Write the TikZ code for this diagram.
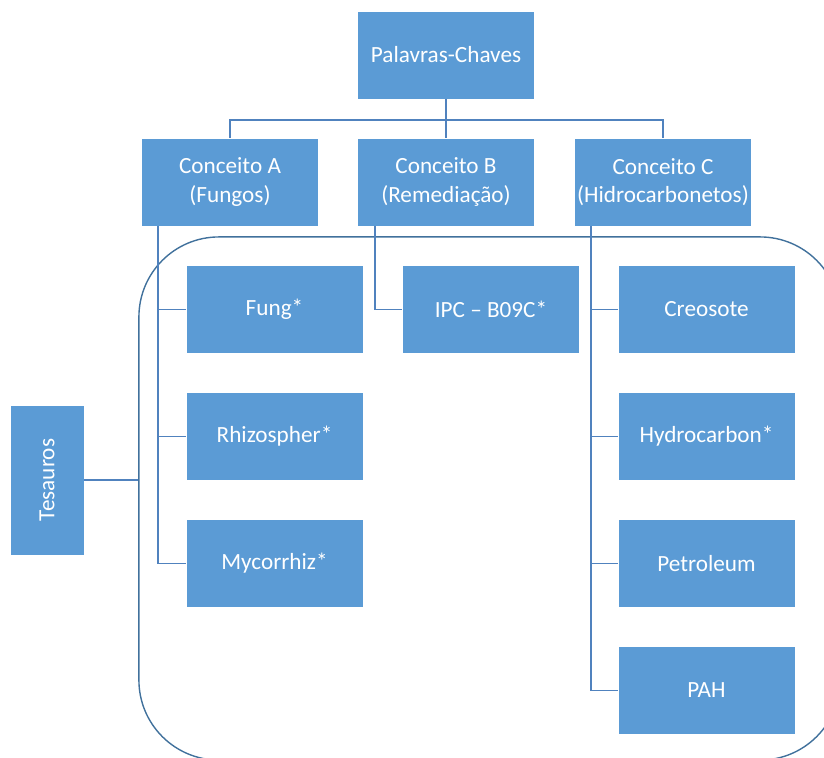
\documentclass[tikz,border=0pt]{standalone}
\usepackage{fontspec}
\setmainfont{Carlito}
\usetikzlibrary{positioning}
\definecolor{boxblue}{RGB}{91,155,213}
\definecolor{linkblue}{RGB}{80,130,190}
\definecolor{panelblue}{RGB}{65,113,156}

\begin{document}
\begin{tikzpicture}[x=0.025cm, y=-0.025cm,
    font=\fontsize{16.5}{20}\selectfont,
    keybox/.style={draw=white, fill=boxblue, text=white, line width=0.5pt,
      minimum width=4.43cm, minimum height=2.2cm, inner sep=0pt, align=center},
    link/.style={draw=linkblue, line width=0.8pt}]

    \useasboundingbox (0,0) rectangle (824,758);

    % Thesaurus panel (runs past the right and bottom edges)
    \node[draw=panelblue, line width=1pt, rounded corners=2cm,
      minimum width=17.525cm, minimum height=13.075cm] (panel) at (489.5,498.5) {};

    % Top level
    \node[keybox] (top) at (446,55) {Palavras-Chaves};

    % Concepts
    \node[keybox] (ca) at (230,182) {Conceito A\\(Fungos)};
    \node[keybox] (cb) at (446,182) {Conceito B\\(Remediação)};
    \node[keybox] (cc) at (663,182) {Conceito C\\(Hidrocarbonetos)};

    % Search terms, column A
    \node[keybox] (fung) at (274.5,309.5) {Fung*};
    \node[keybox] (rhiz) at (274.5,436.5) {Rhizospher*};
    \node[keybox] (myco) at (274.5,563.5) {Mycorrhiz*};

    % Search terms, column B
    \node[keybox] (ipc) at (491,309.5) {IPC – B09C*};

    % Search terms, column C
    \node[keybox] (creo) at (706.5,309.5) {Creosote};
    \node[keybox] (hydro) at (706.5,436.5) {Hydrocarbon*};
    \node[keybox] (petro) at (706.5,563.5) {Petroleum};
    \node[keybox] (pah) at (706.5,690.5) {PAH};

    % Thesaurus label
    \node[keybox, rotate=90, minimum width=3.75cm, minimum height=1.85cm]
      (tes) at (47,480) {Tesauros};

    % Tree links
    \coordinate (bus) at (446,120);
    \draw[link] (top.south) -- (cb.north);
    \draw[link] (ca.north) |- (bus) -| (cc.north);

    \coordinate (ta) at (158,226);
    \coordinate (tb) at (375,226);
    \coordinate (tc) at (591,226);
    \draw[link] (ta) |- (myco.west);
    \foreach \k in {fung,rhiz}{
      \draw[link] (ta |- \k.west) -- (\k.west);
    }
    \draw[link] (tb) |- (ipc.west);
    \draw[link] (tc) |- (pah.west);
    \foreach \k in {creo,hydro,petro}{
      \draw[link] (tc |- \k.west) -- (\k.west);
    }
    \draw[link] (tes.south) -- (tes.south -| panel.west);

\end{tikzpicture}
\end{document}
